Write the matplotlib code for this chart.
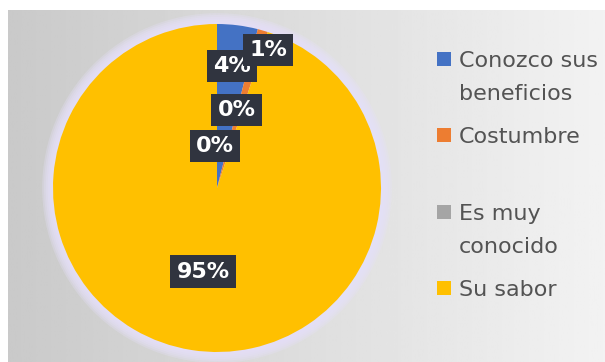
import numpy as np
import matplotlib
matplotlib.use("Agg")
import matplotlib.pyplot as plt
from matplotlib.patches import Circle, Rectangle

# data (last slice has no legend entry)
categories = ["Conozco sus beneficios", "Costumbre", "Es muy conocido", "Su sabor", ""]
percent = [4, 1, 0, 95, 0]
colors = ["#4472C4", "#ED7D31", "#A5A5A5", "#FFC000", "#5B9BD5"]
legend_lines = [["Conozco sus", "beneficios"], ["Costumbre"], ["Es muy", "conocido"], ["Su sabor"]]

# where excel put the data labels (pie radius units, text baseline)
label_xy = [(0.090, 0.709), (0.311, 0.805), (0.120, 0.439), (-0.085, -0.547), (-0.012, 0.221)]

W, H = 605, 362
fig = plt.figure(figsize=(W / 100, H / 100), dpi=100)
fig.patch.set_facecolor("white")

# grey gradient background, cut a bit at top/left like the screenshot
bg = fig.add_axes([8 / W, 0, 1 - 8 / W, 1 - 10 / H])
bg.imshow(np.linspace(0.79, 0.95, 200).reshape(1, -1), cmap="gray", vmin=0, vmax=1,
          aspect="auto", extent=[0, 1, 0, 1])
bg.axis("off")

ax = fig.add_axes([53 / W, 10 / H, 328 / W, 328 / H])
# soft lavender glow around the pie
for k in range(1, 7):
    ax.add_patch(Circle((0, 0), 1 + 0.011 * k, color="#e6e0fa", alpha=0.3, lw=0,
                        zorder=0, clip_on=False))
wedges, _, pcts = ax.pie(percent, colors=colors, startangle=90, counterclock=False,
                         autopct="%1.0f%%", wedgeprops=dict(linewidth=0))
for t, (x, y) in zip(pcts, label_xy):
    t.set_position((x, y))
    t.set(ha="center", va="baseline", color="white", fontsize=16, fontweight="bold")
    t.set_bbox(dict(boxstyle="square,pad=0.28", fc="#30343f", ec="none"))
ax.set_xlim(-1, 1)
ax.set_ylim(-1, 1)

# legend drawn by hand so the markers sit on the first line (excel style)
lg = fig.add_axes([0, 0, 1, 1])
lg.set_xlim(0, W)
lg.set_ylim(H, 0)
lg.axis("off")
for i, lines in enumerate(legend_lines):
    base = 66.7 + 76.5 * i
    lg.add_patch(Rectangle((437, base - 15), 14, 14, color=colors[i], lw=0))
    for j, line in enumerate(lines):
        lg.text(459, base + 33.3 * j, line, fontsize=16, color="#535353", va="baseline")

fig.savefig("out.png", dpi=100)
